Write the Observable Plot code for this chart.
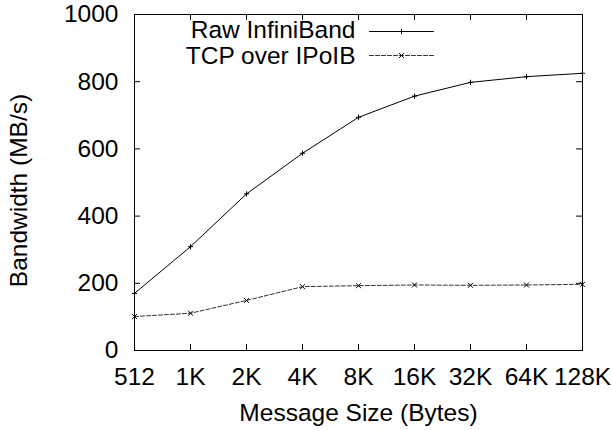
<!DOCTYPE html>
<html>
<head>
<meta charset="utf-8">
<script src="https://cdn.jsdelivr.net/npm/d3@7"></script>
<script src="https://cdn.jsdelivr.net/npm/@observablehq/plot@0.6"></script>
<style>
  html, body { margin: 0; padding: 0; background: white; }
</style>
</head>
<body>
<div id="chart"></div>
<script>
// Message sizes along the x axis
const sizes = ["512", "1K", "2K", "4K", "8K", "16K", "32K", "64K", "128K"];
// Bandwidth in MB/s for each message size
const rawInfiniBand = [170, 309, 466, 587, 694, 757, 798, 815, 825];
const tcpOverIPoIB = [101, 111, 149, 190, 193, 195, 194, 195, 197];
// Y axis ticks
const yTicks = [0, 200, 400, 600, 800, 1000];

const rows = sizes.map((s, i) => ({size: s, raw: rawInfiniBand[i], tcp: tcpOverIPoIB[i]}));

const W = 612, H = 430;
const mL = 134, mR = 30, mT = 14, mB = 80;
const frameW = W - mL - mR, frameH = H - mT - mB;
const tickLen = 6;

// straight-line shape for legend samples
const segment = {draw(ctx, l) { ctx.moveTo(0, 0); ctx.lineTo(0, -l); }};

const chart = Plot.plot({
  width: W,
  height: H,
  marginLeft: mL,
  marginRight: mR,
  marginTop: mT,
  marginBottom: mB,
  style: {fontFamily: "'Liberation Sans', Arial, sans-serif", fontSize: "24.5px", color: "black", background: "white", overflow: "visible"},
  x: {type: "point", domain: sizes, padding: 0},
  y: {domain: [0, 1000]},
  marks: [
    // inward ticks on all four sides
    Plot.tickX(sizes, {x: d => d, insetTop: frameH - tickLen, stroke: "black"}),
    Plot.tickX(sizes, {x: d => d, insetBottom: frameH - tickLen, stroke: "black"}),
    Plot.tickY(yTicks, {y: d => d, insetRight: frameW - tickLen, stroke: "black"}),
    Plot.tickY(yTicks, {y: d => d, insetLeft: frameW - tickLen, stroke: "black"}),
    Plot.axisX({tickSize: 0, tickPadding: 17, label: null}),
    Plot.axisY({ticks: yTicks, tickSize: 0, tickPadding: 16, tickFormat: d => String(d), label: null}),
    Plot.text(["Message Size (Bytes)"], {text: d => d, frameAnchor: "bottom", dy: 63, lineAnchor: "middle", textAnchor: "middle"}),
    Plot.text(["Bandwidth (MB/s)"], {text: d => d, frameAnchor: "left", dx: -115, dy: 8, rotate: -90, textAnchor: "middle", lineAnchor: "middle"}),

    // series
    Plot.line(rows, {x: "size", y: "raw", stroke: "black", strokeWidth: 1}),
    Plot.dot(rows, {x: "size", y: "raw", symbol: "plus", r: 1.8, stroke: "black", strokeWidth: 1}),
    Plot.line(rows, {x: "size", y: "tcp", stroke: "#333", strokeWidth: 1, strokeDasharray: "4,2"}),
    Plot.dot(rows, {x: "size", y: "tcp", symbol: "times", r: 2.4, stroke: "black", strokeWidth: 1}),

    // legend
    Plot.text(["Raw InfiniBand"], {text: d => d, frameAnchor: "top-left", dx: 221, dy: 16, textAnchor: "end", lineAnchor: "middle"}),
    Plot.vector([0], {frameAnchor: "top-left", dx: 235, dy: 17, length: 64, rotate: 90, anchor: "start", shape: segment, stroke: "black", strokeWidth: 1}),
    Plot.dot([0], {frameAnchor: "top-left", dx: 267, dy: 17, symbol: "plus", r: 1.8, stroke: "black", strokeWidth: 1}),
    Plot.text(["TCP over IPoIB"], {text: d => d, frameAnchor: "top-left", dx: 221, dy: 41.5, textAnchor: "end", lineAnchor: "middle"}),
    Plot.vector([0], {frameAnchor: "top-left", dx: 235, dy: 41, length: 64, rotate: 90, anchor: "start", shape: segment, stroke: "#333", strokeWidth: 1, strokeDasharray: "4,2"}),
    Plot.dot([0], {frameAnchor: "top-left", dx: 267, dy: 41, symbol: "times", r: 2.4, stroke: "black", strokeWidth: 1}),

    Plot.frame({stroke: "black", strokeWidth: 1})
  ]
});

document.getElementById("chart").append(chart);
</script>
</body>
</html>
